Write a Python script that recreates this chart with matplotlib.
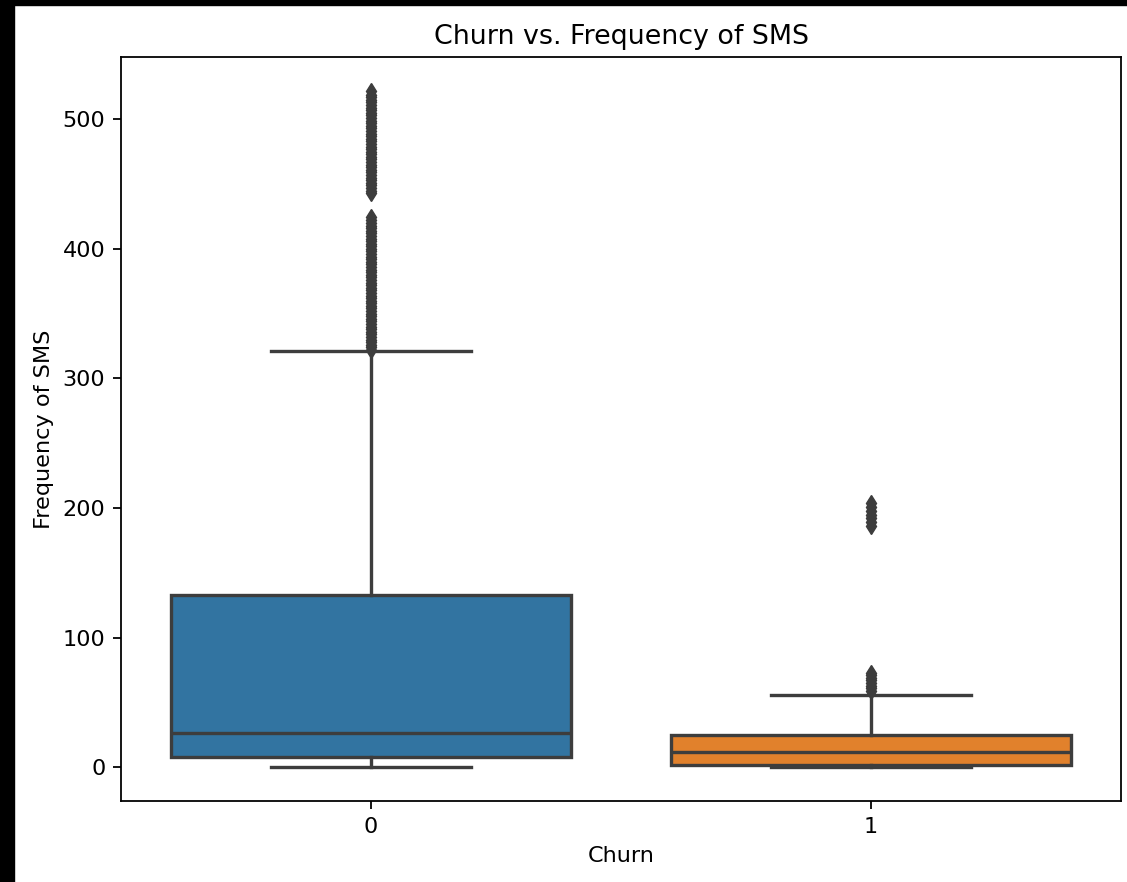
import matplotlib
matplotlib.use("Agg")
import matplotlib.pyplot as plt
from matplotlib.patches import Rectangle

churn_groups = ["0", "1"]
medians = [26, 12]
q1s = [8, 1.5]
q3s = [133, 25]
whisker_lo = [0, 0]
whisker_hi = [321, 56]
fliers_0 = [322, 324, 326, 328, 330, 332, 334, 336, 338, 340, 342, 344, 346,
            348, 350, 352, 354, 356, 358, 360, 362, 364, 366, 368, 370, 372,
            374, 376, 378, 380, 382, 384, 386, 388, 390, 392, 394, 396, 398,
            400, 402, 404, 406, 408, 410, 412, 414, 416, 418, 420, 422, 425,
            443, 445, 447, 449, 451, 453, 455, 457, 459, 461, 463, 465, 467,
            469, 471, 473, 475, 477, 479, 481, 483, 485, 487, 489, 491, 493,
            495, 497, 499, 501, 503, 505, 507, 509, 511, 513, 515, 517, 519, 522]
fliers_1 = [59, 61, 63, 65, 67, 69, 71, 73, 186, 189, 192, 195, 198, 201, 204]
box_colors = ["#3274a1", "#e1812c"]
line_gray = "#3d3d3d"

S = 1.613  # scale from the original 100 dpi rendering
plt.rcParams["font.family"] = "DejaVu Sans"

stats = []
for i, name in enumerate(churn_groups):
    stats.append(dict(label=name, med=medians[i], q1=q1s[i], q3=q3s[i],
                      whislo=whisker_lo[i], whishi=whisker_hi[i],
                      fliers=[fliers_0, fliers_1][i]))

fig = plt.figure(figsize=(11.27, 8.82), dpi=100)
ax = fig.add_axes([121 / 1127, 81 / 882, 1000 / 1127, 744 / 882])

lw = 1.5 * S
bp = ax.bxp(stats, positions=[0, 1], widths=0.8, patch_artist=True,
            showfliers=True,
            boxprops=dict(edgecolor=line_gray, linewidth=lw),
            medianprops=dict(color=line_gray, linewidth=lw),
            whiskerprops=dict(color=line_gray, linewidth=lw),
            capprops=dict(color=line_gray, linewidth=lw),
            capwidths=0.4,
            flierprops=dict(marker="d", markersize=5 * S,
                            markerfacecolor=line_gray, markeredgecolor=line_gray))
for patch, c in zip(bp["boxes"], box_colors):
    patch.set_facecolor(c)

ax.set_xlim(-0.5, 1.5)
ax.set_ylim(-26.1, 548.1)
ax.set_yticks([0, 100, 200, 300, 400, 500])
ax.set_xticks([0, 1])
ax.set_xticklabels(churn_groups)
ax.tick_params(axis="both", labelsize=10 * S, length=3.5 * S, width=0.8 * S,
               pad=3.5 * S)
for spine in ax.spines.values():
    spine.set_linewidth(0.8 * S)

ax.set_title("Churn vs. Frequency of SMS", fontsize=12 * S, pad=6 * S)
ax.set_xlabel("Churn", fontsize=10 * S, labelpad=4 * S)
ax.set_ylabel("Frequency of SMS", fontsize=10 * S, labelpad=4 * S)

# dark window edges along the top and left
fig.add_artist(Rectangle((0, 1 - 5 / 882), 1, 5 / 882, transform=fig.transFigure,
                         color="black", zorder=10))
fig.add_artist(Rectangle((0, 0), 14 / 1127, 1, transform=fig.transFigure,
                         color="black", zorder=10))

fig.savefig("out.png", dpi=100)
